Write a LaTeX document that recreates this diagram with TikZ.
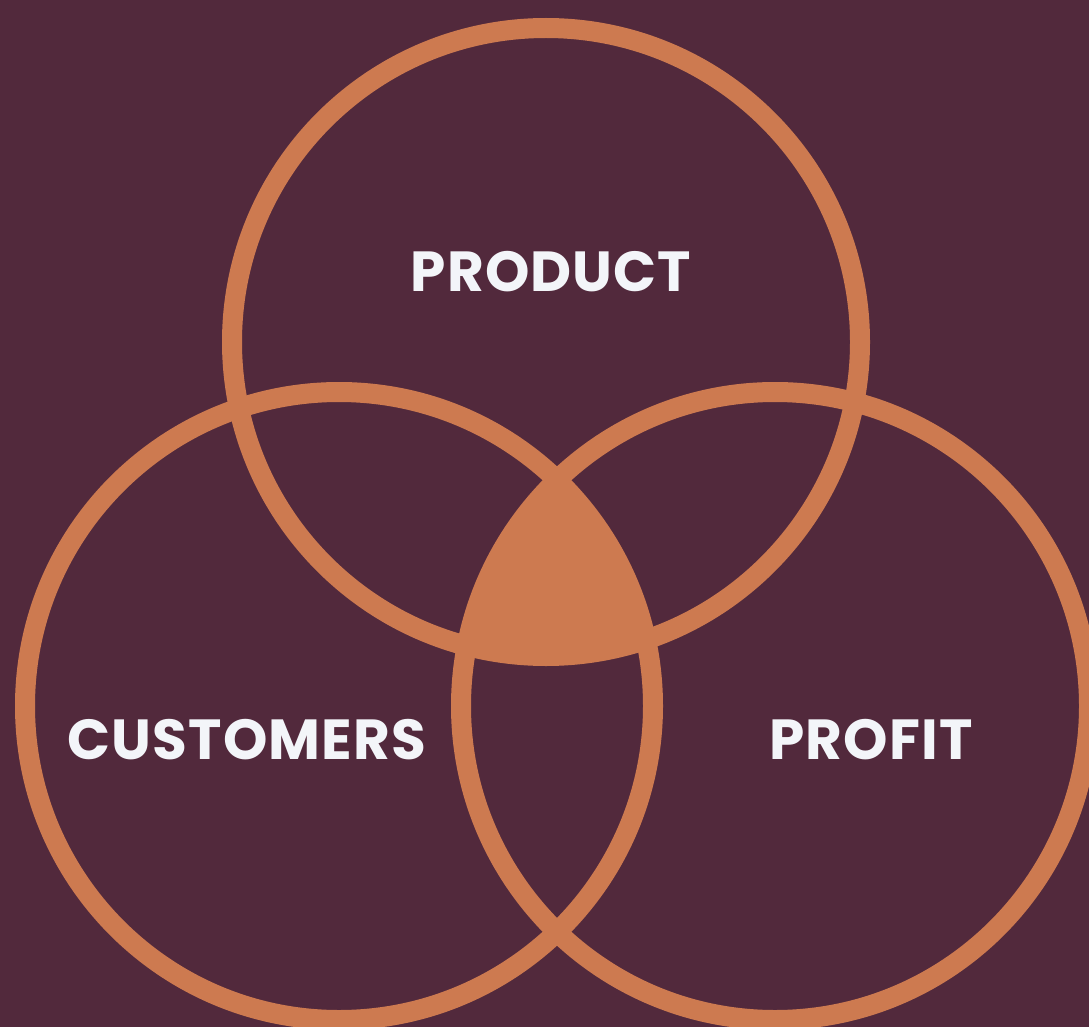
\documentclass[tikz,border=0pt]{standalone}
\usepackage{fontspec}
\setmainfont{Poppins}[UprightFont=* SemiBold, BoldFont=* Bold, LetterSpace=2]
\definecolor{bgc}{HTML}{52293C}
\definecolor{ringc}{HTML}{CD7A50}
\definecolor{txtc}{HTML}{F3F5F9}
\begin{document}
\begin{tikzpicture}[x=1pt,y=-1pt,
  ring/.style={draw=ringc,line width=20pt},
  lbl/.style={text=txtc,font=\fontsize{56.5}{60}\selectfont\bfseries,inner sep=0pt,anchor=center}]
\useasboundingbox (0,0) rectangle (1089,1027);
\fill[bgc] (0,0) rectangle (1089,1027);
\coordinate (ct) at (546,342);
\coordinate (cl) at (339,706);
\coordinate (cr) at (775,706);
\begin{scope}
  \clip (ct) circle[radius=314];
  \clip (cl) circle[radius=314];
  \fill[ringc] (cr) circle[radius=314];
\end{scope}
\draw[ring] (ct) circle[radius=314];
\draw[ring] (cl) circle[radius=314];
\draw[ring] (cr) circle[radius=314];
\node[lbl] (product) at (551,272) {PRODUCT};
\node[lbl] (customers) at (247,740) {CUSTOMERS};
\node[lbl] (profit) at (871,740) {PROFIT};
\end{tikzpicture}
\end{document}
